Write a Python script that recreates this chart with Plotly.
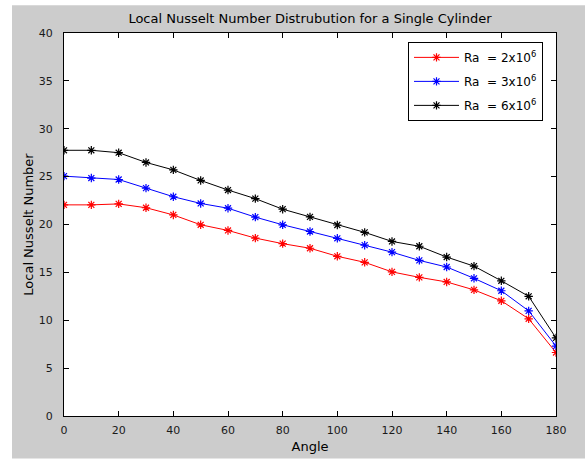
import plotly.graph_objects as go

# Angle around the cylinder (degrees)
angle = [0, 10, 20, 30, 40, 50, 60, 70, 80, 90, 100, 110, 120, 130, 140, 150, 160, 170, 180]

# Local Nusselt number for each Rayleigh number
nu_ra2e6 = [22.05, 22.05, 22.15, 21.75, 21.0, 19.97, 19.38, 18.58, 18.0, 17.52,
            16.68, 16.05, 15.05, 14.48, 14.0, 13.17, 12.03, 10.15, 6.63]
nu_ra3e6 = [25.05, 24.85, 24.7, 23.8, 22.9, 22.2, 21.7, 20.77, 19.97, 19.27,
            18.56, 17.84, 17.11, 16.25, 15.56, 14.38, 13.08, 10.98, 7.3]
nu_ra6e6 = [27.75, 27.75, 27.5, 26.48, 25.7, 24.6, 23.6, 22.7, 21.6, 20.8,
            19.95, 19.18, 18.23, 17.73, 16.6, 15.65, 14.12, 12.5, 8.15]

series_names = ["Ra  = 2x10<sup>6</sup>", "Ra  = 3x10<sup>6</sup>", "Ra  = 6x10<sup>6</sup>"]
series_values = [nu_ra2e6, nu_ra3e6, nu_ra6e6]
series_colors = ["#ff0000", "#0000ff", "#000000"]

x_ticks = [0, 20, 40, 60, 80, 100, 120, 140, 160, 180]
y_ticks = [0, 5, 10, 15, 20, 25, 30, 35, 40]

FONT = "DejaVu Sans, Liberation Sans, Arial, sans-serif"

fig = go.Figure()
for i, (name, vals, col) in enumerate(zip(series_names, series_values, series_colors)):
    fig.add_trace(go.Scatter(
        x=angle, y=vals, name=name, mode="lines+markers",
        legendgroup=f"g{i}",
        line=dict(color=col, width=1),
        marker=dict(symbol="asterisk-open", size=7, color=col,
                    line=dict(color=col, width=1.2)),
    ))

axis_common = dict(
    showline=True, linecolor="#000000", linewidth=1, mirror="ticks",
    ticks="inside", ticklen=5, tickcolor="#000000", tickwidth=1,
    showgrid=False, zeroline=False,
    tickfont=dict(family=FONT, size=11, color="#1a1a1a"),
)

fig.update_layout(
    width=585, height=463,
    margin=dict(l=64, r=29, t=33, b=42, pad=0),
    paper_bgcolor="#ffffff", plot_bgcolor="#ffffff",
    font=dict(family=FONT, size=11, color="#000000"),
    title=dict(text="Local Nusselt Number Distrubution for a Single Cylinder",
               x=0.5, xref="paper", xanchor="center",
               y=1 - 18 / 463, yanchor="middle",
               font=dict(family=FONT, size=13, color="#000000")),
    xaxis=dict(range=[0, 180], tickvals=x_ticks, ticklabelstandoff=4,
               title=dict(text="Angle", standoff=5,
                          font=dict(family=FONT, size=13, color="#000000")),
               **axis_common),
    yaxis=dict(range=[0, 40], tickvals=y_ticks, ticklabelstandoff=8,
               title=dict(text="Local Nusselt Number", standoff=2,
                          font=dict(family=FONT, size=13, color="#000000")),
               **axis_common),
    legend=dict(x=(408 - 64) / 492, y=(421 - 42) / 388, xanchor="left", yanchor="top",
                bgcolor="#ffffff", bordercolor="#000000", borderwidth=1,
                font=dict(family=FONT, size=12, color="#000000"),
                tracegroupgap=5, itemwidth=45),
    showlegend=True,
    shapes=[
        # grey figure panel
        dict(type="rect", xref="paper", yref="paper", layer="below",
             x0=(12 - 64) / 492, x1=(586 - 64) / 492,
             y0=(421 - 464) / 388, y1=(421 - 5) / 388,
             fillcolor="#cccccc", line=dict(width=0)),
        # white axes area
        dict(type="rect", xref="paper", yref="paper", layer="below",
             x0=0, x1=1, y0=0, y1=1,
             fillcolor="#ffffff", line=dict(width=0)),
    ],
)

fig.write_html("out.html")
